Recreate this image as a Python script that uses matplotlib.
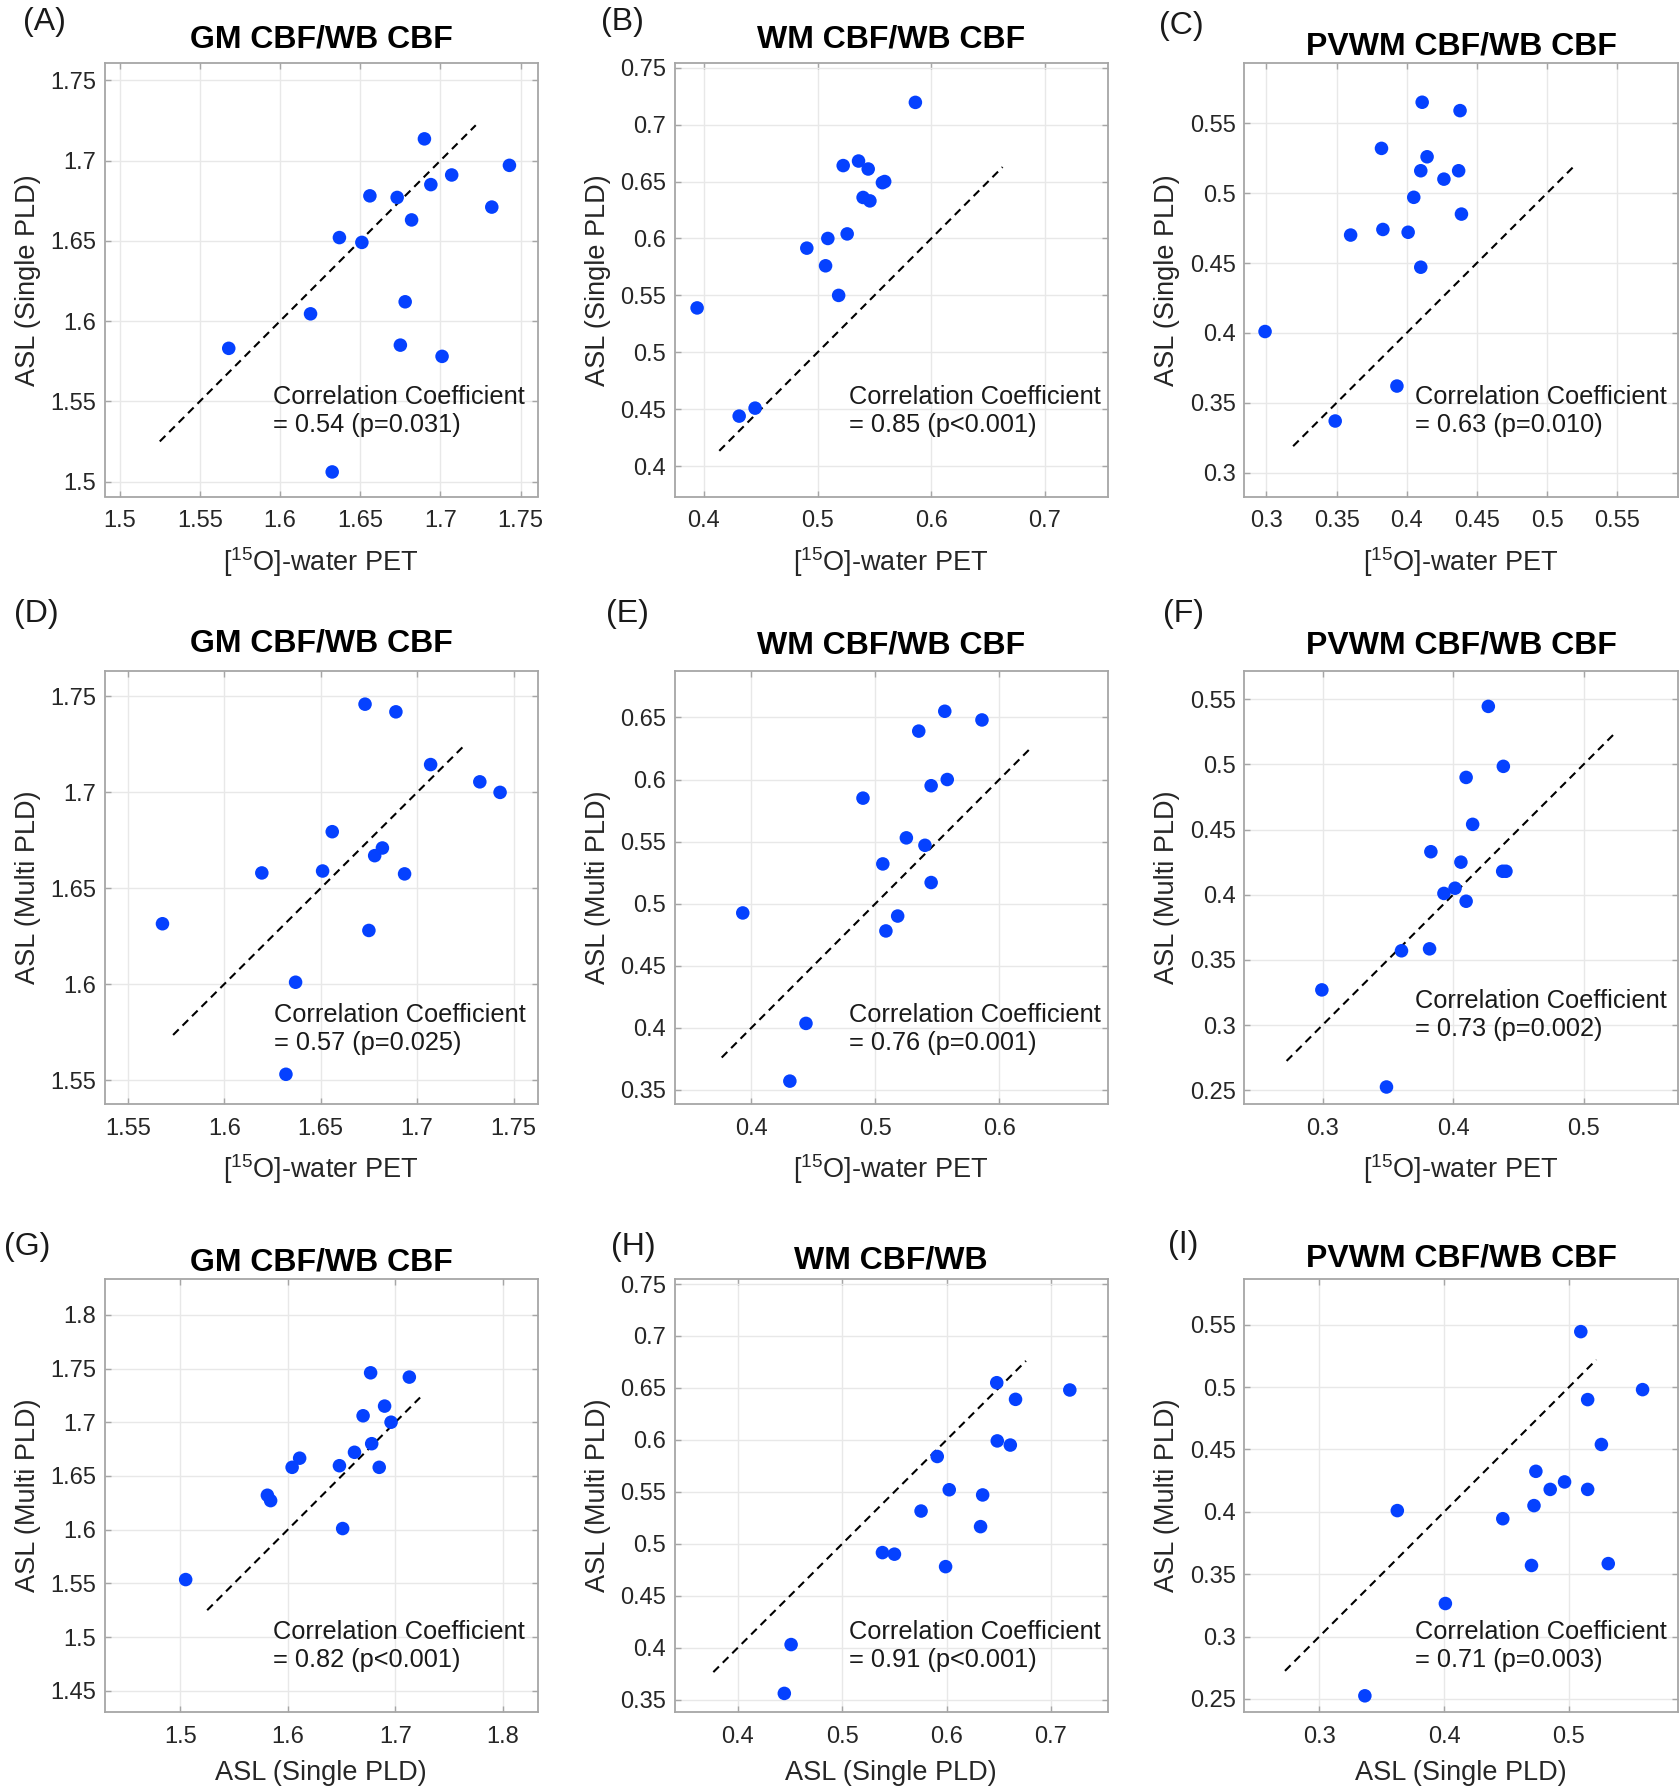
import matplotlib
matplotlib.use("Agg")
import matplotlib.pyplot as plt
from matplotlib.ticker import FuncFormatter

plt.rcParams['font.family'] = ['Liberation Sans', 'DejaVu Sans']
plt.rcParams['mathtext.fontset'] = 'custom'
plt.rcParams['mathtext.rm'] = 'Liberation Sans'
plt.rcParams['mathtext.it'] = 'Liberation Sans'

# ---- data ----
A_x = [1.568, 1.619, 1.6325, 1.637, 1.651, 1.656, 1.673, 1.675, 1.678, 1.682, 1.690, 1.694, 1.701, 1.707, 1.732, 1.743]
A_y = [1.583, 1.6045, 1.506, 1.652, 1.649, 1.678, 1.677, 1.585, 1.612, 1.663, 1.7135, 1.685, 1.578, 1.691, 1.671, 1.697]

B_x = [0.394, 0.431, 0.445, 0.4905, 0.507, 0.509, 0.5185, 0.5225, 0.526, 0.536, 0.540, 0.5445, 0.546, 0.557, 0.559, 0.586]
B_y = [0.539, 0.444, 0.451, 0.5915, 0.576, 0.600, 0.550, 0.664, 0.604, 0.668, 0.636, 0.661, 0.633, 0.649, 0.650, 0.7195]

C_x = [0.299, 0.349, 0.360, 0.382, 0.383, 0.393, 0.401, 0.405, 0.410, 0.410, 0.411, 0.4145, 0.4265, 0.437, 0.438, 0.439]
C_y = [0.401, 0.337, 0.470, 0.532, 0.474, 0.362, 0.472, 0.497, 0.516, 0.447, 0.565, 0.526, 0.510, 0.516, 0.559, 0.485]

D_x = [1.568, 1.6195, 1.632, 1.637, 1.651, 1.656, 1.673, 1.675, 1.678, 1.682, 1.689, 1.6935, 1.707, 1.7325, 1.743]
D_y = [1.6315, 1.658, 1.553, 1.601, 1.659, 1.6795, 1.746, 1.628, 1.667, 1.671, 1.742, 1.6575, 1.7145, 1.7055, 1.700]

E_x = [0.393, 0.431, 0.444, 0.490, 0.506, 0.5085, 0.518, 0.525, 0.535, 0.540, 0.545, 0.545, 0.556, 0.558, 0.586]
E_y = [0.4925, 0.357, 0.4035, 0.585, 0.532, 0.478, 0.490, 0.553, 0.639, 0.547, 0.595, 0.517, 0.655, 0.600, 0.648]

F_x = [0.2995, 0.349, 0.3605, 0.382, 0.383, 0.393, 0.4015, 0.406, 0.410, 0.410, 0.415, 0.427, 0.438, 0.4405, 0.4385]
F_y = [0.327, 0.2525, 0.357, 0.3585, 0.433, 0.401, 0.405, 0.425, 0.490, 0.395, 0.454, 0.5445, 0.418, 0.418, 0.4985]

G_x = [1.505, 1.581, 1.584, 1.604, 1.611, 1.648, 1.651, 1.662, 1.670, 1.677, 1.678, 1.685, 1.690, 1.696, 1.713]
G_y = [1.5535, 1.632, 1.627, 1.658, 1.6665, 1.6595, 1.601, 1.672, 1.706, 1.746, 1.680, 1.658, 1.715, 1.700, 1.742]

H_x = [0.4445, 0.451, 0.5385, 0.550, 0.5755, 0.591, 0.599, 0.6025, 0.6325, 0.6345, 0.648, 0.6485, 0.661, 0.666, 0.718]
H_y = [0.356, 0.403, 0.4915, 0.490, 0.5315, 0.584, 0.478, 0.552, 0.5165, 0.547, 0.655, 0.599, 0.595, 0.639, 0.648]

I_x = [0.3365, 0.3625, 0.401, 0.447, 0.470, 0.472, 0.4735, 0.485, 0.4965, 0.5095, 0.515, 0.515, 0.526, 0.5315, 0.559]
I_y = [0.2525, 0.401, 0.3265, 0.3945, 0.357, 0.405, 0.4325, 0.418, 0.424, 0.5445, 0.490, 0.418, 0.454, 0.3585, 0.498]

# identity (dashed) line extents
ident = {'A': (1.525, 1.722), 'B': (0.4135, 0.6627), 'C': (0.319, 0.5185),
         'D': (1.5735, 1.7236), 'E': (0.376, 0.6267), 'F': (0.2725, 0.5233),
         'G': (1.525, 1.723), 'H': (0.3765, 0.676), 'I': (0.2725, 0.522)}

titles = {'A': 'GM CBF/WB CBF', 'B': 'WM CBF/WB CBF', 'C': 'PVWM CBF/WB CBF',
          'D': 'GM CBF/WB CBF', 'E': 'WM CBF/WB CBF', 'F': 'PVWM CBF/WB CBF',
          'G': 'GM CBF/WB CBF', 'H': 'WM CBF/WB', 'I': 'PVWM CBF/WB CBF'}

stats = {'A': '= 0.54 (p=0.031)', 'B': '= 0.85 (p<0.001)', 'C': '= 0.63 (p=0.010)',
         'D': '= 0.57 (p=0.025)', 'E': '= 0.76 (p=0.001)', 'F': '= 0.73 (p=0.002)',
         'G': '= 0.82 (p<0.001)', 'H': '= 0.91 (p<0.001)', 'I': '= 0.71 (p=0.003)'}

pet_lab = r'[$^{15}$O]-water PET'
xlabels = {'A': pet_lab, 'B': pet_lab, 'C': pet_lab, 'D': pet_lab, 'E': pet_lab, 'F': pet_lab,
           'G': 'ASL (Single PLD)', 'H': 'ASL (Single PLD)', 'I': 'ASL (Single PLD)'}
ylabels = {'A': 'ASL (Single PLD)', 'B': 'ASL (Single PLD)', 'C': 'ASL (Single PLD)',
           'D': 'ASL (Multi PLD)', 'E': 'ASL (Multi PLD)', 'F': 'ASL (Multi PLD)',
           'G': 'ASL (Multi PLD)', 'H': 'ASL (Multi PLD)', 'I': 'ASL (Multi PLD)'}

xlims = {'A': (1.4906, 1.7605), 'B': (0.3742, 0.755), 'C': (0.2842, 0.5933),
         'D': (1.538, 1.7624), 'E': (0.338, 0.6873), 'F': (0.2401, 0.5722),
         'G': (1.4296, 1.8322), 'H': (0.3394, 0.7541), 'I': (0.2399, 0.5873)}
ylims = {'A': (1.4907, 1.7607), 'B': (0.3734, 0.754), 'C': (0.283, 0.593),
         'D': (1.5374, 1.7634), 'E': (0.3384, 0.6876), 'F': (0.2393, 0.5718),
         'G': (1.4303, 1.8338), 'H': (0.3382, 0.7553), 'I': (0.2396, 0.5871)}

xticks = {'A': [1.5, 1.55, 1.6, 1.65, 1.7, 1.75], 'B': [0.4, 0.5, 0.6, 0.7],
          'C': [0.3, 0.35, 0.4, 0.45, 0.5, 0.55], 'D': [1.55, 1.6, 1.65, 1.7, 1.75],
          'E': [0.4, 0.5, 0.6], 'F': [0.3, 0.4, 0.5], 'G': [1.5, 1.6, 1.7, 1.8],
          'H': [0.4, 0.5, 0.6, 0.7], 'I': [0.3, 0.4, 0.5]}
yticks = {'A': [1.5, 1.55, 1.6, 1.65, 1.7, 1.75],
          'B': [0.4, 0.45, 0.5, 0.55, 0.6, 0.65, 0.7, 0.75],
          'C': [0.3, 0.35, 0.4, 0.45, 0.5, 0.55],
          'D': [1.55, 1.6, 1.65, 1.7, 1.75],
          'E': [0.35, 0.4, 0.45, 0.5, 0.55, 0.6, 0.65],
          'F': [0.25, 0.3, 0.35, 0.4, 0.45, 0.5, 0.55],
          'G': [1.45, 1.5, 1.55, 1.6, 1.65, 1.7, 1.75, 1.8],
          'H': [0.35, 0.4, 0.45, 0.5, 0.55, 0.6, 0.65, 0.7, 0.75],
          'I': [0.25, 0.3, 0.35, 0.4, 0.45, 0.5, 0.55]}

data = {'A': (A_x, A_y), 'B': (B_x, B_y), 'C': (C_x, C_y),
        'D': (D_x, D_y), 'E': (E_x, E_y), 'F': (F_x, F_y),
        'G': (G_x, G_y), 'H': (H_x, H_y), 'I': (I_x, I_y)}

# ---- layout (pixels of the 1680x1791 canvas) ----
W, H = 1680, 1791
col_left = [104.6, 674.6, 1244.3]
col_w = [432.9, 432.9, 433.6]
row_top = [63.1, 670.8, 1278.5]
row_h = 433.4
title_pad = {'A': 11, 'B': 11, 'C': 6.5, 'D': 14, 'E': 12.5, 'F': 12.5, 'G': 6, 'H': 7.5, 'I': 8.5}
txt_pos = {'A': (0.389, 0.198), 'B': (0.404, 0.198), 'C': (0.393, 0.198),
           'D': (0.392, 0.173), 'E': (0.404, 0.173), 'F': (0.393, 0.205),
           'G': (0.389, 0.152), 'H': (0.403, 0.152), 'I': (0.393, 0.152)}
lab_pos = {'A': (23, 22), 'B': (601, 22), 'C': (1159, 26),
           'D': (14, 614), 'E': (606, 614), 'F': (1163, 614),
           'G': (4, 1247), 'H': (611, 1247), 'I': (1168, 1245)}

dot_color = '#0541ff'
frame_color = '#a6a6a6'

fig = plt.figure(figsize=(W / 100, H / 100), dpi=100)
fmt = FuncFormatter(lambda v, p: '%g' % round(v, 4))

for k, key in enumerate('ABCDEFGHI'):
    r, c = divmod(k, 3)
    ax = fig.add_axes([col_left[c] / W, 1 - (row_top[r] + row_h) / H,
                       col_w[c] / W, row_h / H])
    x, y = data[key]
    lo, hi = ident[key]
    ax.plot([lo, hi], [lo, hi], color='black', lw=1.5, dashes=(3.8, 2.6), zorder=2)
    ax.scatter(x, y, s=95, color=dot_color, edgecolors='none', zorder=3)
    ax.set_xlim(xlims[key])
    ax.set_ylim(ylims[key])
    ax.set_xticks(xticks[key])
    ax.set_yticks(yticks[key])
    ax.xaxis.set_major_formatter(fmt)
    ax.yaxis.set_major_formatter(fmt)
    ax.grid(True, color='#e8e8e8', lw=1.0, zorder=0)
    ax.set_axisbelow(True)
    for s in ax.spines.values():
        s.set_color(frame_color)
        s.set_linewidth(1.3)
    ax.tick_params(direction='in', length=4, width=1, color=frame_color,
                   top=True, right=True, labelsize=17, labelcolor='#262626')
    ax.tick_params(axis='x', pad=10)
    ax.tick_params(axis='y', pad=6)
    ax.set_title(titles[key], fontsize=23, fontweight='bold', pad=title_pad[key])
    ax.set_xlabel(xlabels[key], fontsize=19.5, color='#262626', labelpad=9)
    ax.set_ylabel(ylabels[key], fontsize=19.5, color='#262626', labelpad=7)
    tx, ty = txt_pos[key]
    ax.text(tx, ty, 'Correlation Coefficient\n' + stats[key], transform=ax.transAxes,
            fontsize=18.3, color='#1a1a1a', ha='left', va='center', linespacing=1.2)
    lx, ly = lab_pos[key]
    fig.text(lx / W, 1 - ly / H, '(%s)' % key, fontsize=23, color='#1a1a1a',
             ha='left', va='center')

fig.savefig('out.png', dpi=100, facecolor='white')
